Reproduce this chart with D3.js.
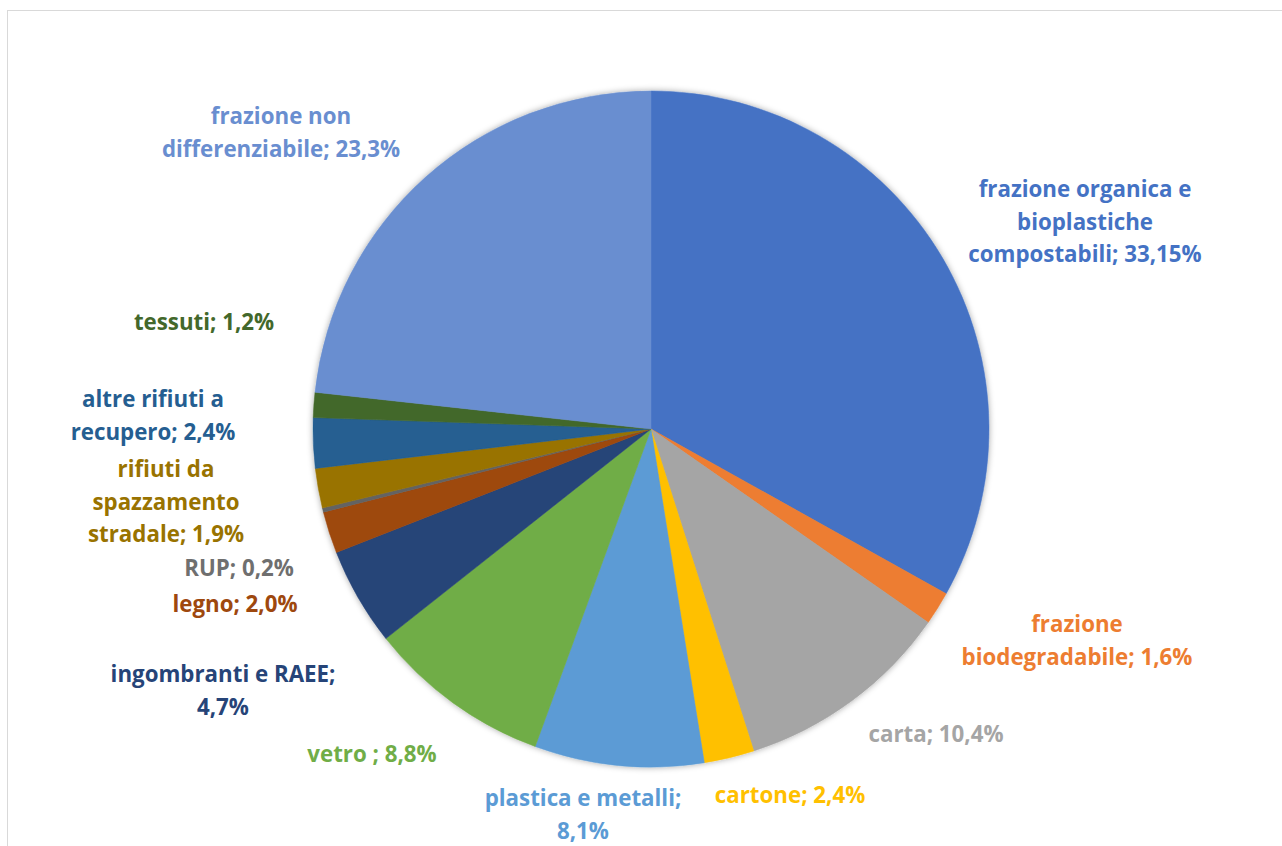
<!DOCTYPE html>
<html>
<head>
<meta charset="utf-8">
<script src="https://cdn.jsdelivr.net/npm/d3@7"></script>
<style>
  html, body { margin: 0; padding: 0; background: #ffffff; }
  #graf { width: 1282px; height: 846px; }
</style>
</head>
<body>
<div id="graf"></div>
<script>
// Composizione merceologica dei rifiuti - grafico a torta

// I. Dati
categorie = ['frazione organica e bioplastiche compostabili', 'frazione biodegradabile', 'carta',
  'cartone', 'plastica e metalli', 'vetro', 'ingombranti e RAEE', 'legno', 'RUP',
  'rifiuti da spazzamento stradale', 'altre rifiuti a recupero', 'tessuti', 'frazione non differenziabile']
valori = [33.15, 1.6, 10.4, 2.4, 8.1, 8.8, 4.7, 2.0, 0.2, 1.9, 2.4, 1.2, 23.3]
etichette = [
  ['frazione organica e', 'bioplastiche', 'compostabili; 33,15%'],
  ['frazione', 'biodegradabile; 1,6%'],
  ['carta; 10,4%'],
  ['cartone; 2,4%'],
  ['plastica e metalli;', '8,1%'],
  ['vetro ; 8,8%'],
  ['ingombranti e RAEE;', '4,7%'],
  ['legno; 2,0%'],
  ['RUP; 0,2%'],
  ['rifiuti da', 'spazzamento', 'stradale; 1,9%'],
  ['altre rifiuti a', 'recupero; 2,4%'],
  ['tessuti; 1,2%'],
  ['frazione non', 'differenziabile; 23,3%']
]
colori = ['#4472c4', '#ed7d31', '#a5a5a5', '#ffc000', '#5b9bd5', '#70ad47', '#264478',
  '#9e480e', '#636363', '#997300', '#255e91', '#43682b', '#698ed0']

// posizione delle etichette (centro del testo, linea di base della prima riga)
posEtichette = [
  [1085, 197], [1077, 632], [936, 742], [790, 803], [583, 806], [372, 762], [223, 682],
  [235, 612], [239, 576], [166, 477], [153, 407], [204, 330], [281, 124]
]

// II. Configurazione
ancho_total = 1282
alto_total = 846
centro = { x: 651, y: 429 }
raggio = 338
interlinea = 32.5

svg = d3.select('#graf').append('svg')
        .attr('width', ancho_total)
        .attr('height', alto_total)

defs = svg.append('defs')
ombra = defs.append('filter')
        .attr('id', 'ombra')
        .attr('x', '-10%').attr('y', '-10%')
        .attr('width', '120%').attr('height', '120%')
ombra.append('feDropShadow')
      .attr('dx', 0).attr('dy', 0)
      .attr('stdDeviation', 3)
      .attr('flood-color', '#000000')
      .attr('flood-opacity', 0.35)

// cornice dell'area del grafico
svg.append('rect')
    .attr('x', 7.5)
    .attr('y', 10.5)
    .attr('width', 1300)
    .attr('height', 900)
    .attr('fill', 'none')
    .attr('stroke', '#d9d9d9')
    .attr('stroke-width', 1)

g = svg.append('g')
        .attr('transform', `translate(${centro.x}, ${centro.y})`)

pie = d3.pie().sort(null).value(d => d)
arc = d3.arc().innerRadius(0).outerRadius(raggio)

spicchi = pie(valori)

g.append('g')
  .attr('filter', 'url(#ombra)')
  .selectAll('path')
  .data(spicchi)
  .join('path')
    .attr('d', arc)
    .attr('fill', (d, i) => colori[i])
    .attr('stroke', (d, i) => colori[i])
    .attr('stroke-width', 0.5)

// III. Etichette
etichette.forEach((righe, i) => {
  t = svg.append('text')
        .attr('x', posEtichette[i][0])
        .attr('y', posEtichette[i][1])
        .attr('text-anchor', 'middle')
        .attr('font-family', '"Open Sans", Lato, sans-serif')
        .attr('font-weight', 700)
        .attr('font-size', '22.3px')
        .attr('fill', i == 8 ? '#6f6f6f' : colori[i])
  righe.forEach((r, j) => {
    t.append('tspan')
      .attr('x', posEtichette[i][0])
      .attr('dy', j == 0 ? 0 : interlinea)
      .text(r)
  })
})
</script>
</body>
</html>
